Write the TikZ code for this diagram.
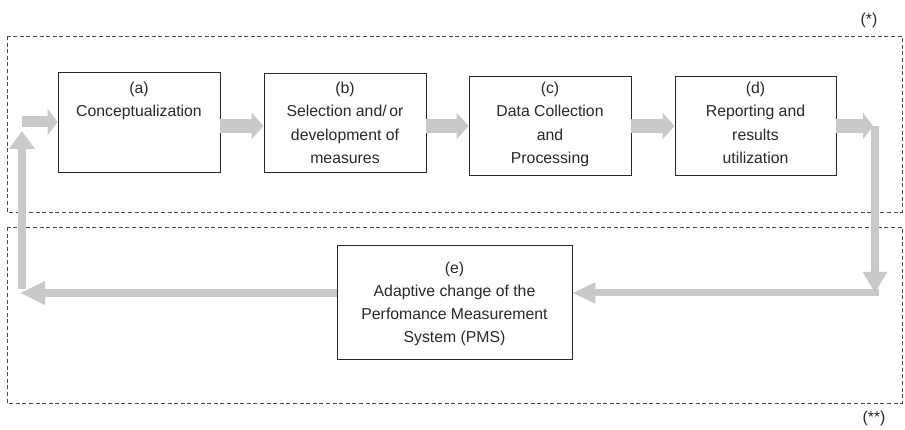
\documentclass[tikz,border=0pt]{standalone}
\usepackage{fontspec}
\setmainfont{Liberation Sans}
\usetikzlibrary{arrows.meta}
\definecolor{flowgray}{RGB}{200,201,203}
\definecolor{inkgray}{RGB}{40,40,40}
\tikzset{
  stagebox/.style={draw=inkgray, line width=0.9pt, rectangle, inner sep=0pt},
  stagetext/.style={anchor=north, align=center, inner sep=0pt, text=inkgray,
    font=\fontsize{15.8}{23.2}\selectfont},
  phase/.style={draw=inkgray!85, line width=0.7pt, dash pattern=on 4pt off 2.6pt},
  phasetag/.style={text=inkgray, font=\fontsize{15.8}{19}\selectfont, inner sep=0pt},
  bigflow/.style={draw=flowgray, line width=14pt,
    -{Triangle[width=26pt,length=12pt]}, shorten >=0pt},
  entryflow/.style={draw=flowgray, line width=11pt,
    -{Triangle[width=26pt,length=10pt]}},
  thinflow/.style={draw=flowgray, line width=8pt,
    -{Triangle[width=23pt,length=21pt]}}
}
\begin{document}
\begin{tikzpicture}[x=1pt, y=-1pt]
  \useasboundingbox (0,0) rectangle (905,430);

  % phase frames
  \draw[phase] (7,36) rectangle (902,212);
  \draw[phase] (7,227) rectangle (902,403);
  \node[phasetag] (star1) at (869,20) {(*)};
  \node[phasetag] (star2) at (874,418) {(**)};

  % stage boxes
  \node[stagebox, minimum width=162pt, minimum height=100pt] (a) at (139,122.5) {};
  \node[stagebox, minimum width=162pt, minimum height=99pt] (b) at (345,122.5) {};
  \node[stagebox, minimum width=162pt, minimum height=99pt] (c) at (550,125.5) {};
  \node[stagebox, minimum width=161pt, minimum height=99pt] (d) at (755.5,125.5) {};
  \node[stagebox, minimum width=235pt, minimum height=114pt] (e) at (454.5,302) {};

  % texts inside the boxes
  \coordinate (ttop) at (0,82);
  \coordinate (etop) at (0,261.5);
  \node[stagetext] (ta) at (a.north |- ttop) {(a)\\Conceptualization};
  \node[stagetext] (tb) at (b.north |- ttop) {(b)\\Selection and/\,or\\development of\\measures};
  \node[stagetext] (tc) at (c.north |- ttop) {(c)\\Data Collection\\and\\Processing};
  \node[stagetext] (td) at (d.north |- ttop) {(d)\\Reporting and\\results\\utilization};
  \node[stagetext] (te) at (e.north |- etop) {(e)\\Adaptive change of the\\Perfomance Measurement\\System (PMS)};

  % routing points of the feedback loop
  \coordinate (row) at (0,126);
  \coordinate (rtop) at (875,126);
  \coordinate (rbot) at (875,293);
  \coordinate (lbot) at (22,293);
  \coordinate (lup) at (22,131);
  \coordinate (lin) at (22,122);

  % forward flow between stages
  \draw[bigflow] (a.east |- row) -- (b.west |- row);
  \draw[bigflow] (b.east |- row) -- (c.west |- row);
  \draw[bigflow] (c.east |- row) -- (d.west |- row);

  % feedback loop
  \draw[thinflow] (rtop) -- (rbot);
  \draw[bigflow, -{Triangle[width=26pt,length=10pt]}] (d.east |- row) -- ([xshift=-2pt]rtop);
  \draw[thinflow, line width=7pt, -{Triangle[width=20pt,length=23pt]}]
    ([xshift=4pt]rbot) -- (e.east |- rbot);
  \draw[thinflow, -{Triangle[width=22pt,length=25pt]}] (e.west |- rbot) -- ([xshift=-2pt]lbot);
  \draw[thinflow, -{Triangle[width=25pt,length=18pt]}] ([yshift=4pt]lbot) -- (lup);
  \draw[entryflow] (lin) -- (a.west |- lin);
\end{tikzpicture}
\end{document}
